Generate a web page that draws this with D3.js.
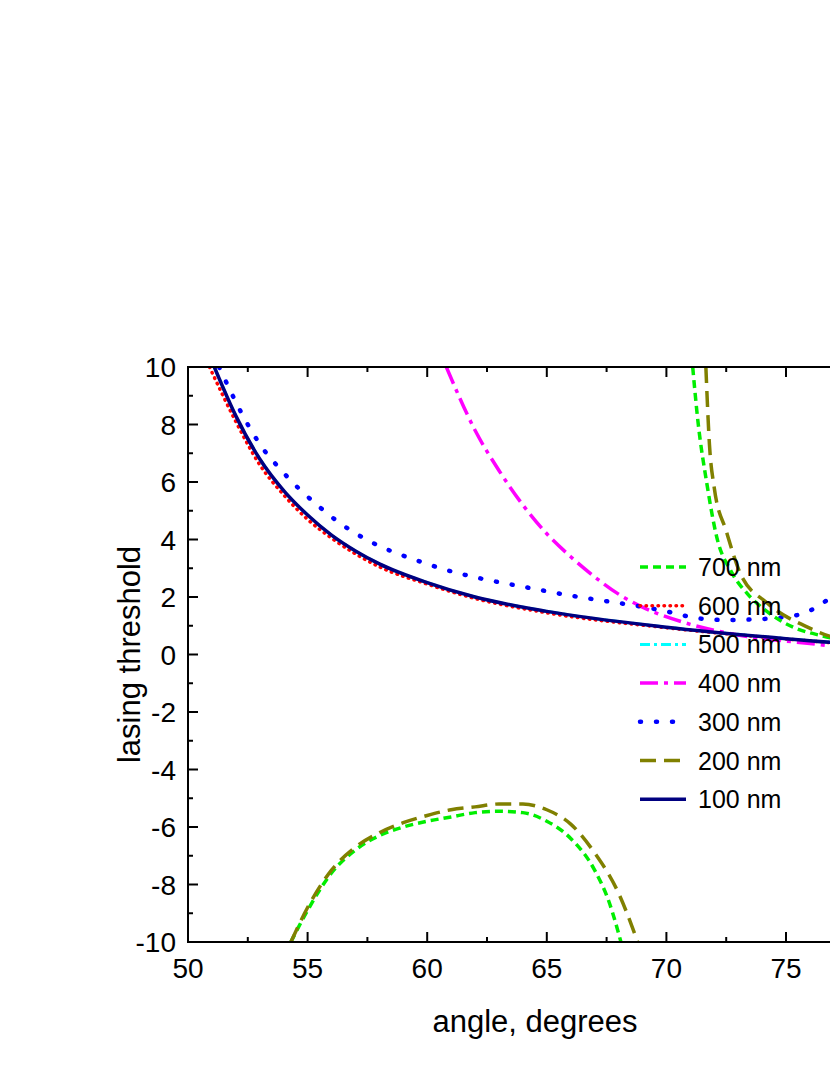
<!DOCTYPE html>
<html><head><meta charset="utf-8">
<script src="https://cdn.jsdelivr.net/npm/d3@7"></script>
<style>body{margin:0;background:#fff}svg{font-family:"Liberation Sans",Arial,sans-serif}</style>
</head><body>
<svg id="c" width="830" height="1075"></svg>
<script>
// lasing threshold vs angle
const xTicks = [50, 55, 60, 65, 70, 75, 80];
const yTicks = [-10, -8, -6, -4, -2, 0, 2, 4, 6, 8, 10];
const nm100 = [[51.1,10],[52,8.3],[53,6.8],[54,5.7],[55,4.85],[56,4.15],[57,3.6],[58,3.15],[60,2.5],[62,2.0],[65,1.5],[70,0.95],[75,0.55],[78,0.35],[80,0.25]];
const nm600 = [[50.9,10],[52,8.1],[53,6.6],[54,5.55],[55,4.7],[56,4.05],[57,3.5],[58,3.05],[60,2.45],[62,1.95],[65,1.45],[70,0.93],[75,0.54],[78,0.34],[80,0.25]];
const nm500 = nm100;
const nm400 = [[60.8,10],[62,7.8],[63,6.4],[64,5.2],[65,4.2],[66,3.4],[67,2.7],[68,2.1],[69,1.65],[71,1.05],[73,0.68],[76,0.38],[78,0.2],[80,0.1]];
const nm300 = [[51.3,10],[52.5,8.0],[53.1,7.2],[53.8,6.5],[54.6,5.8],[55.4,5.2],[56.3,4.6],[57.3,4.07],[60,3.15],[65,2.2],[70,1.5],[71.4,1.25],[72.5,1.2],[73.6,1.22],[74.7,1.28],[75.8,1.45],[76.7,1.88],[78,2.6],[80,4]];
const nm700a = [[71.1,10],[71.3,8.25],[71.7,5.9],[72.1,4.1],[72.7,2.9],[73.4,2.1],[74.2,1.5],[75.3,0.95],[76.5,0.65],[78,0.4],[80,0.25]];
const nm700b = [[54.3,-10],[55,-8.9],[56,-7.6],[57,-6.8],[58,-6.3],[59,-6.0],[60,-5.8],[61,-5.65],[62,-5.5],[63,-5.45],[64,-5.5],[65,-5.8],[66,-6.4],[67,-7.5],[67.6,-8.6],[68.1,-10]];
const nm200a = [[71.65,10],[71.8,7.3],[72.0,5.8],[72.5,4.3],[73.1,2.8],[74.2,1.8],[75.9,0.95],[77,0.6],[80,0.3]];
const nm200b = [[54.3,-10],[55,-8.8],[56,-7.5],[57,-6.7],[58,-6.2],[59,-5.85],[60,-5.6],[61,-5.4],[62,-5.3],[63,-5.2],[64,-5.2],[65,-5.4],[66,-5.9],[67,-6.9],[68,-8.3],[68.8,-10]];
const labels = ["700 nm","600 nm","500 nm","400 nm","300 nm","200 nm","100 nm"];

const series = [
  {d:[nm500], c:"#00ffff", dash:"10,4,3,4", w:3, cap:"butt"},
  {d:[nm600], c:"#ff0000", dash:"0.5,5.5", w:3.5, cap:"round"},
  {d:[nm400], c:"#ff00ff", dash:"18,6,4,6", w:3.5, cap:"butt"},
  {d:[nm300], c:"#0000ff", dash:"1,15", w:4.5, cap:"round"},
  {d:[nm700a,nm700b], c:"#00ee00", dash:"8,5", w:3.5, cap:"butt"},
  {d:[nm200a,nm200b], c:"#808000", dash:"16,8", w:3.5, cap:"butt"},
  {d:[nm100], c:"#000080", dash:null, w:3.5, cap:"butt"}
];
const legendOrder = [4,1,0,2,3,5,6];

const svg = d3.select("#c");
const L = 188, T = 367, B = 942;
const x = d3.scaleLinear().domain([50,80]).range([L, L + 6*119.6]);
const y = d3.scaleLinear().domain([-10,10]).range([B, T]);
const R = x(80);

svg.append("clipPath").attr("id","clip").append("rect").attr("x",L).attr("y",T).attr("width",R-L).attr("height",B-T);
const line = d3.line().x(d=>x(d[0])).y(d=>y(d[1])).curve(d3.curveMonotoneX);
const g = svg.append("g").attr("clip-path","url(#clip)");
series.forEach(s => s.d.forEach(arr => {
  g.append("path").attr("d", line(arr)).attr("fill","none").attr("stroke",s.c)
    .attr("stroke-width",s.w).attr("stroke-dasharray",s.dash).attr("stroke-linecap",s.cap);
}));

// frame and ticks
svg.append("rect").attr("x",L).attr("y",T).attr("width",R-L).attr("height",B-T).attr("fill","none").attr("stroke","#000").attr("stroke-width",2);
const ax = svg.append("g").attr("stroke","#000").attr("stroke-width",2);
d3.range(50,80.01,2.5).forEach(v => {
  const len = v % 5 === 0 ? 10 : 5;
  ax.append("line").attr("x1",x(v)).attr("x2",x(v)).attr("y1",B).attr("y2",B-len);
  ax.append("line").attr("x1",x(v)).attr("x2",x(v)).attr("y1",T).attr("y2",T+len);
});
d3.range(-10,10.01,1).forEach(v => {
  const len = v % 2 === 0 ? 10 : 5;
  ax.append("line").attr("x1",L).attr("x2",L+len).attr("y1",y(v)).attr("y2",y(v));
});
svg.selectAll(".xt").data(xTicks).join("text").attr("x",d=>x(d)).attr("y",B+36).attr("text-anchor","middle").attr("font-size",28).text(d=>d);
svg.selectAll(".yt").data(yTicks).join("text").attr("x",L-12).attr("y",d=>y(d)+10).attr("text-anchor","end").attr("font-size",28).text(d=>d);
svg.append("text").attr("x",535).attr("y",1032).attr("text-anchor","middle").attr("font-size",31).text("angle, degrees");
svg.append("text").attr("transform",`translate(140,${y(0)}) rotate(-90)`).attr("text-anchor","middle").attr("font-size",31).text("lasing threshold");

// legend
legendOrder.forEach((si,i) => {
  const s = series[si], ly = 567 + i*38.7;
  svg.append("line").attr("x1",640).attr("x2",686).attr("y1",ly).attr("y2",ly).attr("stroke",s.c)
    .attr("stroke-width",s.w).attr("stroke-dasharray",s.dash).attr("stroke-linecap",s.cap);
  svg.append("text").attr("x",698).attr("y",ly+9).attr("font-size",25).text(labels[i]);
});
</script>
</body></html>
